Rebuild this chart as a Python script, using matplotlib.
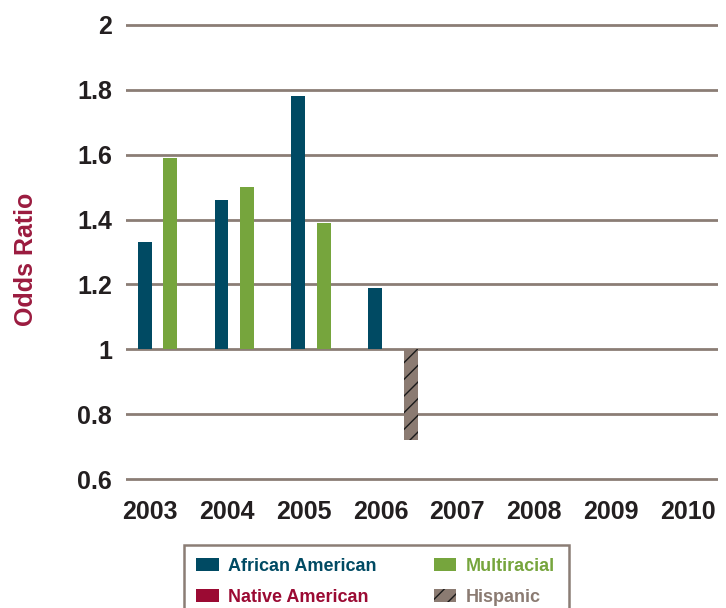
import matplotlib
matplotlib.use("Agg")
import matplotlib.pyplot as plt
from matplotlib.patches import Rectangle, Patch
import numpy as np

years = ["2003", "2004", "2005", "2006", "2007", "2008", "2009", "2010"]
series_names = ["African American", "Native American", "Multiracial", "Hispanic"]
african_american = [1.33, 1.46, 1.78, 1.19, np.nan, np.nan, np.nan, np.nan]
native_american = [np.nan] * 8
multiracial = [1.59, 1.50, 1.39, np.nan, np.nan, np.nan, np.nan, np.nan]
hispanic = [np.nan, np.nan, np.nan, 0.72, np.nan, np.nan, np.nan, np.nan]
y_ticks = [0.6, 0.8, 1.0, 1.2, 1.4, 1.6, 1.8, 2.0]
y_tick_labels = ["0.6", "0.8", "1", "1.2", "1.4", "1.6", "1.8", "2"]
baseline = 1.0

colors = {"African American": "#004a63", "Native American": "#9b0a33",
          "Multiracial": "#76a53d", "Hispanic": "#8b7b72"}
offsets = {"African American": -0.07, "Native American": 0.08,
           "Multiracial": 0.26, "Hispanic": 0.40}
hatches = {"Hispanic": "//"}

plt.rcParams["font.family"] = ["Liberation Sans", "DejaVu Sans"]
plt.rcParams["hatch.color"] = "#1a1a1a"
plt.rcParams["hatch.linewidth"] = 1.0

W, H = 726, 608
fig = plt.figure(figsize=(W / 100, H / 100), dpi=100)
ax_left, ax_right = 126, 718
ax_top, ax_bot = 21.75, 482.25
ax = fig.add_axes([ax_left / W, 1 - ax_bot / H, (ax_right - ax_left) / W, (ax_bot - ax_top) / H])

x = np.arange(len(years))
bar_w = 0.18
data = {"African American": african_american, "Native American": native_american,
        "Multiracial": multiracial, "Hispanic": hispanic}
for name in series_names:
    vals = np.array(data[name], dtype=float)
    ax.bar(x + offsets[name], vals - baseline, bottom=baseline, width=bar_w,
           color=colors[name], hatch=hatches.get(name, None), linewidth=0, zorder=3)

ax.set_ylim(0.59, 2.01)
px_per_cat = 76.9
ax.set_xlim(-(150 - ax_left) / px_per_cat, 7 + (ax_right - 688) / px_per_cat)
ax.set_yticks(y_ticks)
ax.set_yticklabels(y_tick_labels)
ax.set_xticks(x)
ax.set_xticklabels(years)
ax.yaxis.grid(True, color="#8b7d75", linewidth=2.0, zorder=1)
ax.set_axisbelow(True)
for s in ax.spines.values():
    s.set_visible(False)
ax.tick_params(axis="both", length=0, labelsize=18, labelcolor="#231f20")
ax.tick_params(axis="y", pad=10)
ax.tick_params(axis="x", pad=13)
for lab in ax.get_xticklabels() + ax.get_yticklabels():
    lab.set_fontweight("bold")

fig.text(26 / W, 1 - 259 / H, "Odds Ratio", rotation=90, ha="center", va="center",
         fontsize=18, fontweight="bold", color="#9b1b3f")

# legend
handles = [Patch(facecolor=colors[n], hatch=hatches.get(n, None), linewidth=0) for n in series_names]
leg = fig.legend(handles, series_names, ncol=2, frameon=False,
                 loc="upper left", bbox_to_anchor=(196 / W, 1 - 558 / H),
                 prop={"weight": "bold", "size": 13},
                 handlelength=1.25, handleheight=0.7, handletextpad=0.5,
                 columnspacing=3.2, labelspacing=0.75, borderaxespad=0, borderpad=0)
for t, n in zip(leg.get_texts(), series_names):
    t.set_color(colors[n])
fig.patches.append(Rectangle((184 / W, -10 / H), (569 - 184) / W, (608 + 10 - 545) / H,
                             transform=fig.transFigure, fill=False,
                             edgecolor="#8b7d75", linewidth=1.8))

fig.savefig("out.png", dpi=100)
